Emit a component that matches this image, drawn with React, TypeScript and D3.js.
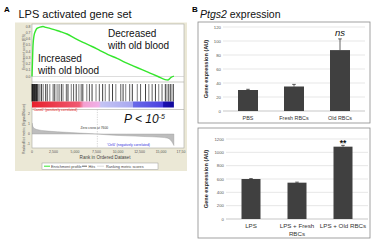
import React from "react";
import * as d3 from "d3";

// ---------- Panel A data (GSEA) ----------
const esCurve: [number, number][] = [
  [0, 0], [60, 0.26], [120, 0.5], [230, 0.65], [410, 0.73], [580, 0.77], [930, 0.79],
  [1280, 0.8], [1630, 0.785], [2090, 0.77], [2670, 0.745], [3260, 0.72], [4070, 0.68],
  [5000, 0.61], [5930, 0.545], [6980, 0.48], [7910, 0.415], [8840, 0.35], [9890, 0.29],
  [10820, 0.225], [11750, 0.17], [12790, 0.11], [13720, 0.055], [14650, 0.0],
  [15470, -0.05], [15820, -0.055], [16170, -0.015], [16500, 0.005],
];
const hitRanks: number[] = [
  0, 60, 130, 200, 280, 350, 430, 520, 600, 700, 921, 1113, 1305, 1573, 1765, 2072, 2456,
  2648, 2917, 3147, 3415, 3607, 3991, 4183, 4567, 4835, 5142, 5449, 5718, 5910, 6370, 6677,
  6984, 7445, 7829, 8213, 8520, 8980, 9364, 9748, 10323, 10592, 10899, 11359, 11666, 12242,
  12625, 13201, 13585, 13969, 14353, 14737, 15120, 15504, 15696, 15888, 16080, 16272, 16450,
];
const metricCurve: [number, number][] = [
  [0, 1.1], [100, 0.75], [300, 0.55], [700, 0.42], [1500, 0.32], [3000, 0.22], [5000, 0.12],
  [7000, 0.03], [7600, 0], [9000, -0.1], [11000, -0.18], [13000, -0.25], [15000, -0.33],
  [15800, -0.42], [16100, -0.6], [16350, -0.9], [16500, -1.15],
];
const zeroCross = 7600;
const esTicks = [0, 0.1, 0.2, 0.3, 0.4, 0.5, 0.6, 0.7, 0.8];
const metricTicks = [2, 1, 0, -1];
const rankTicks = [0, 2500, 5000, 7500, 10000, 12500, 15000, 17500];
const rankTickLabels = ["0", "2,500", "5,000", "7,500", "10,000", "12,500", "15,000", "17,50"];
const colorBarStops: [number, string][] = [
  [0, "#e8202c"], [5500, "#f05a72"], [6000, "#f4a0d0"], [7800, "#f0b0e8"], [8000, "#c4c4f4"],
  [11700, "#a8a8f0"], [11800, "#6a6ae8"], [15200, "#4a40e0"], [15300, "#1a10b0"], [16500, "#10089a"],
];

// ---------- Panel B data ----------
const ptgsCategories = ["PBS", "Fresh RBCs", "Old RBCs"];
const ptgsValues = [30, 35, 87];
const ptgsErrors = [1, 3, 16];
const ptgsTicks = [0, 20, 40, 60, 80, 100, 120];

const lpsCategories = ["LPS", "LPS + Fresh|RBCs", "LPS + Old RBCs"];
const lpsValues = [600, 545, 1085];
const lpsErrors = [6, 8, 20];
const lpsTicks = [0, 200, 400, 600, 800, 1000, 1200];

const FONT = "'Liberation Sans', Arial, sans-serif";

function BarPanel(props: {
  cats: string[]; vals: number[]; errs: number[]; ticks: number[];
  frame: [number, number, number, number]; xRange: [number, number]; yRange: [number, number];
  bw: number; labelY: number; labelSize: number; mark: string; markItalic: boolean; markY: number;
}) {
  const { cats, vals, errs, ticks, frame, xRange, yRange, bw, labelY, labelSize } = props;
  const step = (xRange[1] - xRange[0]) / 3;
  const pInner = 1 - bw / step;
  const pOuter = (3 - (3 - pInner)) / 2 + pInner / 2 - pInner / 2;
  const x = d3.scaleBand<string>().domain(cats).range(xRange).paddingInner(pInner).paddingOuter(pInner / 2);
  const y = d3.scaleLinear().domain([ticks[0], ticks[ticks.length - 1]]).range(yRange);
  const [fx0, fy0, fx1, fy1] = frame;
  void pOuter;
  return (
    <g fontFamily={FONT}>
      <rect x={fx0} y={fy0} width={fx1 - fx0} height={fy1 - fy0} fill="#fff" stroke="#8a8a8a" strokeWidth={0.8} />
      {ticks.map((t) => (
        <g key={t}>
          <line x1={xRange[0] - 2} x2={xRange[1] + 2} y1={y(t)} y2={y(t)} stroke={t === 0 ? "#b0b0b0" : "#dcdcdc"} strokeWidth={0.7} />
          <text x={xRange[0] - 4} y={y(t) + 1.5} fontSize={4.3} textAnchor="end" fill="#555">{t}</text>
        </g>
      ))}
      <text transform={`translate(${fx0 + 10},${(yRange[0] + yRange[1]) / 2}) rotate(-90)`} fontSize={5.6} fontWeight="bold" textAnchor="middle" fill="#222">Gene expression (AU)</text>
      {cats.map((c, i) => {
        const cx = (x(c) as number) + x.bandwidth() / 2;
        const top = y(vals[i]);
        const eTop = y(vals[i] + errs[i]);
        const lines = c.split("|");
        return (
          <g key={c}>
            <rect x={x(c)} y={top} width={x.bandwidth()} height={y(0) - top} fill="#404040" />
            <line x1={cx} x2={cx} y1={top} y2={eTop} stroke="#222" strokeWidth={0.7} />
            <line x1={cx - 1.8} x2={cx + 1.8} y1={eTop} y2={eTop} stroke="#222" strokeWidth={0.7} />
            {lines.map((l, j) => (
              <text key={j} x={cx} y={labelY + j * 7.5} fontSize={labelSize} textAnchor="middle" fill="#333">{l}</text>
            ))}
            {i === 2 && (
              <text x={cx} y={props.markY} fontSize={props.markItalic ? 9.5 : 8.5} fontStyle={props.markItalic ? "italic" : "normal"} fontWeight={props.markItalic ? "normal" : "bold"} textAnchor="middle" fill="#111">{props.mark}</text>
            )}
          </g>
        );
      })}
    </g>
  );
}

export default function App() {
  const rankX = d3.scaleLinear().domain([0, 17500]).range([32, 182.5]);
  const esY = d3.scaleLinear().domain([0, 0.8]).range([76.5, 26.5]);
  const metricY = d3.scaleLinear().domain([-1, 2]).range([144, 114]);

  const esLine = d3.line<[number, number]>().x((d) => rankX(d[0])).y((d) => esY(d[1])).curve(d3.curveMonotoneX);
  const metricArea = d3.area<[number, number]>().x((d) => rankX(d[0])).y0(metricY(0)).y1((d) => metricY(d[1])).curve(d3.curveMonotoneX);

  const plotL = 32, plotR = 184, plotT = 24, esB = 82, hitT = 84, hitB = 101.5, cbB = 107.5, rkT = 109.5, rkB = 148;
  const maxRank = colorBarStops[colorBarStops.length - 1][0];

  return (
    <svg width={378} height={240} style={{ position: "absolute", left: 0, top: 0, background: "#fff" }} fontFamily={FONT}>
      <defs>
        <linearGradient id="cb" x1={rankX(0)} x2={rankX(maxRank)} y1={0} y2={0} gradientUnits="userSpaceOnUse">
          {colorBarStops.map(([r, c], i) => (
            <stop key={i} offset={r / maxRank} stopColor={c} />
          ))}
        </linearGradient>
        <clipPath id="rk"><rect x={plotL} y={rkT} width={plotR - plotL} height={rkB - rkT} /></clipPath>
      </defs>

      {/* Panel A */}
      <text x={4} y={12} fontSize={8} fontWeight="bold">A</text>
      <text x={18.5} y={17.5} fontSize={11} fill="#111">LPS activated gene set</text>
      <rect x={15} y={22.5} width={172} height={148.5} fill="#ebe8d6" />
      <rect x={plotL} y={plotT} width={plotR - plotL} height={rkB - plotT} fill="#fff" stroke="#a8a8a0" strokeWidth={0.6} />
      <line x1={plotL} x2={plotR} y1={esB} y2={esB} stroke="#a8a8a0" strokeWidth={0.6} />
      <line x1={plotL} x2={plotR} y1={rkT} y2={rkT} stroke="#a8a8a0" strokeWidth={0.6} />

      {/* ES axis */}
      {esTicks.map((t) => (
        <text key={t} x={30.5} y={esY(t) + 1.2} fontSize={3.4} textAnchor="end" fill="#555">{t.toFixed(1)}</text>
      ))}
      <line x1={plotL} x2={plotR} y1={esY(0)} y2={esY(0)} stroke="#bbb" strokeWidth={0.5} />
      <text transform={`translate(24.5,52) rotate(-90)`} fontSize={3.6} textAnchor="middle" fill="#555">Enrichment score (ES)</text>
      <path d={esLine(esCurve) ?? ""} fill="none" stroke="#35e62d" strokeWidth={1.4} />

      {/* hits */}
      {hitRanks.map((r, i) => (
        <line key={i} x1={rankX(r)} x2={rankX(r)} y1={hitT} y2={hitB} stroke="#111" strokeWidth={0.9} strokeOpacity={i < 10 ? 0.95 : 0.6 + 0.3 * ((i * 7) % 3) / 2} />
      ))}
      <rect x={rankX(0)} y={hitB} width={rankX(maxRank) - rankX(0)} height={cbB - hitB} fill="url(#cb)" />
      <text x={33} y={110.5} fontSize={3.4} fill="#e02020">'Case0' (positively correlated)</text>

      {/* ranked list */}
      <g clipPath="url(#rk)">
        <path d={metricArea(metricCurve) ?? ""} fill="#bdbdbd" stroke="#9a9a9a" strokeWidth={0.4} />
      </g>
      <line x1={rankX(zeroCross)} x2={rankX(zeroCross)} y1={rkT} y2={rkB} stroke="#bbb" strokeWidth={0.6} strokeDasharray="1.2,1.2" />
      <text x={rankX(zeroCross) - 3} y={128.5} fontSize={3.3} textAnchor="middle" fill="#333">Zero cross at 7600</text>
      <text x={107} y={146} fontSize={3.4} fill="#3030e0">'Ctrl0' (negatively correlated)</text>
      {metricTicks.map((t) => (
        <text key={t} x={30} y={metricY(t) + 1.2} fontSize={3.4} textAnchor="end" fill="#555">{t}</text>
      ))}
      <text transform={`translate(24.5,129) rotate(-90)`} fontSize={3.4} textAnchor="middle" fill="#555">Ranked list metric (Signal2Noise)</text>
      {rankTicks.map((t, i) => (
        <text key={t} x={Math.min(rankX(t), 181)} y={153} fontSize={3.5} textAnchor="middle" fill="#555">{rankTickLabels[i]}</text>
      ))}
      <text x={105} y={158.5} fontSize={4.6} textAnchor="middle" fill="#444">Rank in Ordered Dataset</text>
      <text x={124} y={123} fontSize={12} fontStyle="italic" fill="#111">P &lt; 10<tspan dy={-4.5} fontSize={7}>-5</tspan></text>

      {/* legend */}
      <rect x={42} y={163} width={116} height={6.5} fill="#fff" stroke="#999" strokeWidth={0.5} />
      <line x1={44} x2={50} y1={166.2} y2={166.2} stroke="#35e62d" strokeWidth={1} />
      <text x={51} y={167.5} fontSize={3.8} fill="#444">Enrichment profile</text>
      <line x1={82} x2={87} y1={166.2} y2={166.2} stroke="#222" strokeWidth={0.7} />
      <text x={88.5} y={167.5} fontSize={3.8} fill="#444">Hits</text>
      <line x1={97} x2={104} y1={166.2} y2={166.2} stroke="#ccc" strokeWidth={0.7} />
      <text x={106} y={167.5} fontSize={3.8} fill="#444">Ranking metric scores</text>

      {/* annotations */}
      <text x={108} y={37} fontSize={10} fill="#111">Decreased</text>
      <text x={108} y={48.5} fontSize={10} fill="#111">with old blood</text>
      <text x={38} y={62} fontSize={10} fill="#111">Increased</text>
      <text x={38} y={73.5} fontSize={10} fill="#111">with old blood</text>

      {/* Panel B */}
      <text x={192} y={12} fontSize={8} fontWeight="bold">B</text>
      <text x={200} y={17.5} fontSize={10.5} fill="#111"><tspan fontStyle="italic">Ptgs2</tspan> expression</text>

      <BarPanel cats={ptgsCategories} vals={ptgsValues} errs={ptgsErrors} ticks={ptgsTicks}
        frame={[198, 22, 370, 123]} xRange={[225, 363]} yRange={[111, 27]} bw={20}
        labelY={119.5} labelSize={5.4} mark="ns" markItalic={true} markY={36} />
      <BarPanel cats={lpsCategories} vals={lpsValues} errs={lpsErrors} ticks={lpsTicks}
        frame={[198, 128, 370, 238]} xRange={[228, 366]} yRange={[219, 139]} bw={19}
        labelY={228} labelSize={6.2} mark="**" markItalic={false} markY={146} />
    </svg>
  );
}
